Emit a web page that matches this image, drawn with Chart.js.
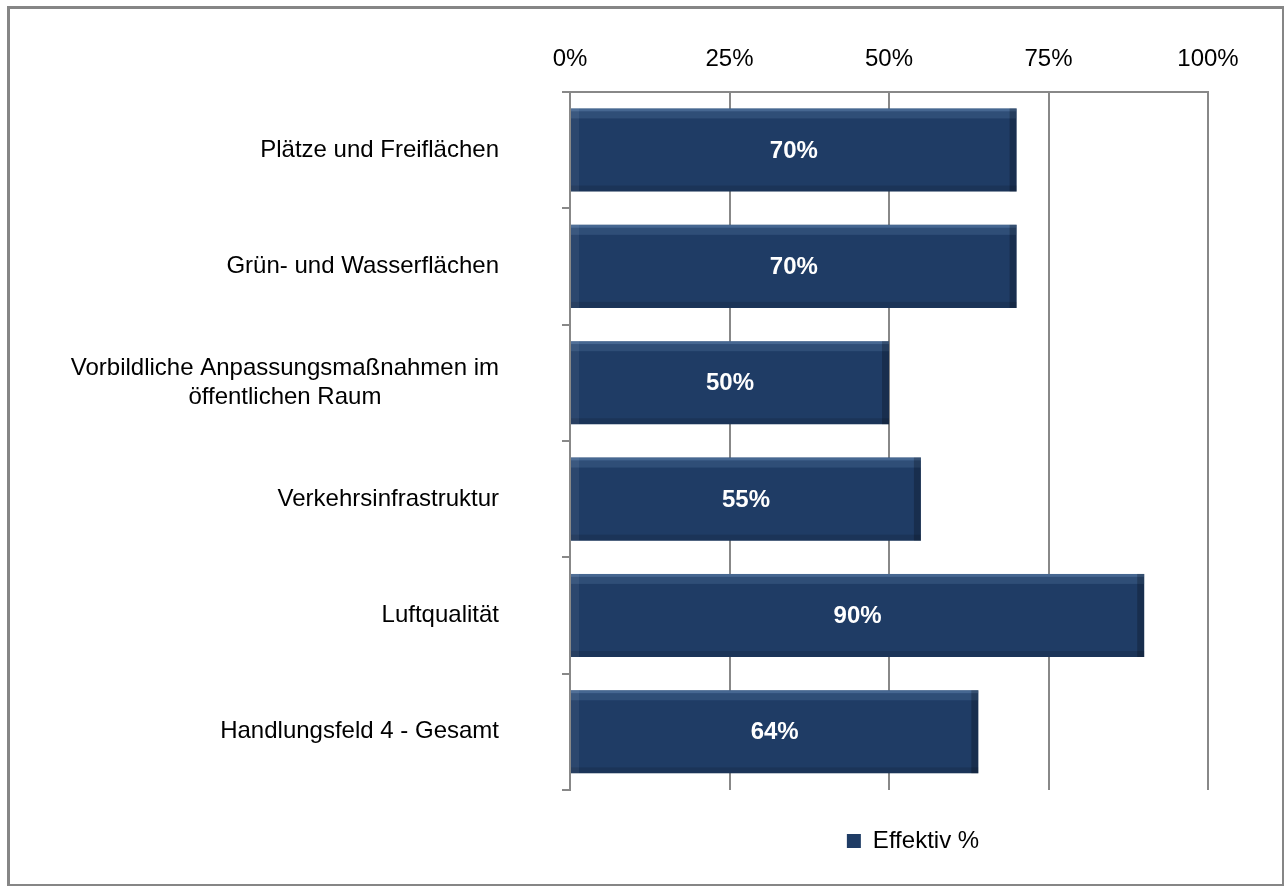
<!DOCTYPE html>
<html>
<head>
<meta charset="utf-8">
<script src="https://cdn.jsdelivr.net/npm/chart.js@4.4.1/dist/chart.umd.min.js"></script>
<style>
  html, body { margin: 0; padding: 0; background: #fff; }
  #wrap { position: relative; width: 1285px; height: 887px; }
  #frame {
    position: absolute; left: 7px; top: 6px; width: 1272px; height: 875px;
    border: 3px solid #868686; border-right-width: 2px; border-bottom-width: 2px;
    pointer-events: none;
  }
</style>
</head>
<body>
<div id="wrap">
  <canvas id="chart" width="1285" height="887"></canvas>
  <div id="frame"></div>
</div>
<script>
// Daten
const categories = [
    'Plätze und Freiflächen',
    'Grün- und Wasserflächen',
    ['Vorbildliche Anpassungsmaßnahmen im', 'öffentlichen Raum'],
    'Verkehrsinfrastruktur',
    'Luftqualität',
    'Handlungsfeld 4 - Gesamt'
];
const effektiv = [70, 70, 50, 55, 90, 64];
const xTicks = [0, 25, 50, 75, 100];
const seriesName = 'Effektiv %';

const FONT = '"Liberation Sans", Arial, sans-serif';
const GRID = '#888888';

// Kategorienbeschriftung links (rechtsbündig, mehrzeilig zentriert)
const yLabelPlugin = {
    id: 'yLabels',
    afterDraw(chart) {
        const { ctx, scales: { y } } = chart;
        ctx.save();
        ctx.font = '24px ' + FONT;
        ctx.fillStyle = '#000';
        ctx.textBaseline = 'middle';
        ctx.textAlign = 'center';
        categories.forEach((cat, i) => {
            const lines = [].concat(cat);
            const yc = y.getPixelForTick(i);
            const lh = 29;
            const widest = Math.max(...lines.map(l => ctx.measureText(l).width));
            const right = y.right - 71;
            lines.forEach((l, j) => {
                ctx.fillText(l, right - widest / 2, yc + (j - (lines.length - 1) / 2) * lh);
            });
        });
        ctx.restore();
    }
};

// Legende etwas nach rechts schieben
const legendShiftPlugin = {
    id: 'legendShift',
    afterLayout(chart) {
        chart.legend.left += 24;
        chart.legend.right += 24;
    }
};

// Balken mit leichtem 3D-Rand und Wertbeschriftung
const barStylePlugin = {
    id: 'barStyle',
    afterDatasetsDraw(chart) {
        const { ctx } = chart;
        const meta = chart.getDatasetMeta(0);
        ctx.save();
        meta.data.forEach((el, i) => {
            const left = Math.min(el.base, el.x);
            const right = Math.max(el.base, el.x);
            const top = el.y - el.height / 2;
            const h = el.height;
            const w = right - left;
            ctx.fillStyle = 'rgba(110,145,190,0.5)';
            ctx.fillRect(left, top, w, 3);
            ctx.fillStyle = 'rgba(90,125,170,0.28)';
            ctx.fillRect(left, top + 3, w, 7);
            ctx.fillStyle = 'rgba(0,0,0,0.12)';
            ctx.fillRect(left, top + h - 6, w, 6);
            ctx.fillStyle = 'rgba(0,0,0,0.22)';
            ctx.fillRect(right - 7, top, 7, h);
            ctx.fillStyle = 'rgba(255,255,255,0.06)';
            ctx.fillRect(left, top, 8, h);

            ctx.fillStyle = '#fff';
            ctx.font = 'bold 24px ' + FONT;
            ctx.textAlign = 'center';
            ctx.textBaseline = 'middle';
            ctx.fillText(effektiv[i] + '%', (left + right) / 2, el.y + 1);
        });
        ctx.restore();
    }
};

function initChart() {
    const ctx = document.getElementById('chart').getContext('2d');
    new Chart(ctx, {
        type: 'bar',
        data: {
            labels: categories,
            datasets: [{
                label: seriesName,
                data: effektiv,
                backgroundColor: '#1f3c65',
                borderWidth: 0,
                barPercentage: 0.714,
                categoryPercentage: 1
            }]
        },
        options: {
            indexAxis: 'y',
            responsive: false,
            animation: false,
            layout: { padding: { top: 27, right: 77, left: 0, bottom: 24 } },
            plugins: {
                legend: {
                    position: 'bottom',
                    fullSize: false,
                    labels: {
                        boxWidth: 14,
                        boxHeight: 14,
                        padding: 39,
                        color: '#000',
                        font: { family: FONT, size: 24 }
                    }
                },
                tooltip: { enabled: false }
            },
            scales: {
                x: {
                    position: 'top',
                    min: 0,
                    max: 100,
                    afterBuildTicks: scale => { scale.ticks = xTicks.map(v => ({ value: v })); },
                    ticks: {
                        callback: v => v + '%',
                        color: '#000',
                        padding: 18,
                        maxRotation: 0,
                        font: { family: FONT, size: 24 }
                    },
                    grid: { color: GRID, lineWidth: 2, drawTicks: false },
                    border: { display: true, color: GRID, width: 2 }
                },
                y: {
                    ticks: { display: false },
                    afterFit: scale => { scale.width = 570; },
                    grid: {
                        offset: true,
                        drawOnChartArea: false,
                        drawTicks: true,
                        tickLength: 8,
                        color: GRID,
                        lineWidth: 2
                    },
                    border: { display: true, color: GRID, width: 2 }
                }
            }
        },
        plugins: [yLabelPlugin, barStylePlugin, legendShiftPlugin]
    });
}

document.addEventListener('DOMContentLoaded', initChart);
</script>
</body>
</html>
